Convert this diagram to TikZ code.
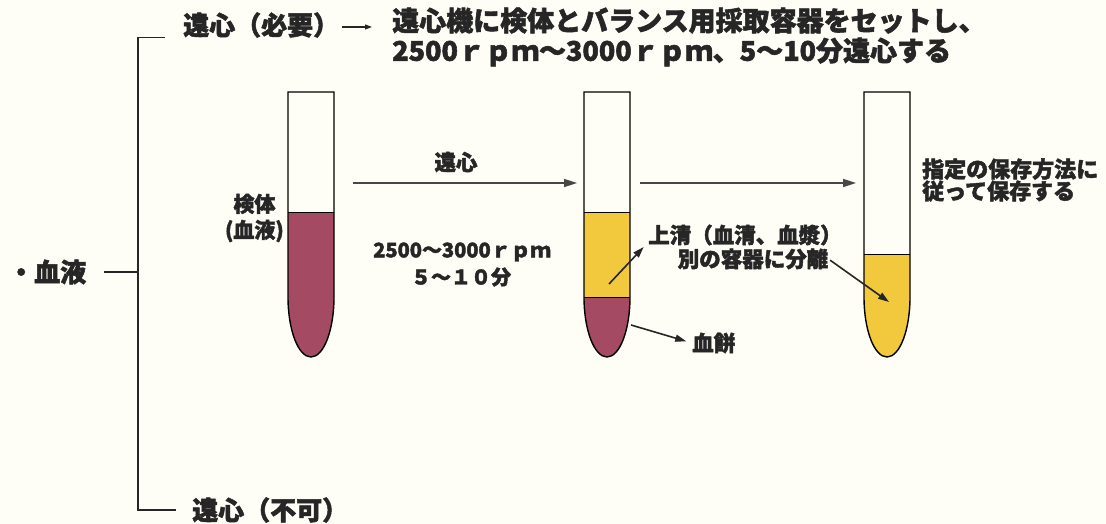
\documentclass[tikz,border=0pt]{standalone}
\usepackage{fontspec}
\newfontfamily\jp{Noto Sans CJK JP}[FakeBold=2]
\usetikzlibrary{arrows.meta}
\definecolor{paper}{RGB}{254,253,246}
\definecolor{clot}{RGB}{164,74,98}
\definecolor{serum}{RGB}{242,200,60}
\definecolor{ink}{RGB}{38,38,38}
\tikzset{
  lbl/.style={inner sep=0pt, text=ink, font=\jp\bfseries\fontsize{21.5}{23}\selectfont},
  head/.style={inner sep=0pt, text=ink, font=\jp\bfseries\fontsize{26}{30}\selectfont},
  big/.style={inner sep=0pt, text=ink, font=\jp\bfseries\fontsize{27}{30}\selectfont},
  flow/.style={draw=ink!85, line width=1.6pt, -{Triangle[length=13pt,width=8pt]}},
  leader/.style={draw=ink, line width=1.6pt, -{Triangle[length=11pt,width=7pt]}},
  tubeline/.style={draw=black, line width=1.4pt}
}
% tube: left wall at #1, width 46, round bottom at y=-357
\newcommand{\tubebody}[1]{(#1,-92) -- (#1,-297) arc[start angle=180, end angle=360, x radius=23pt, y radius=60pt] -- (#1+46,-92) -- cycle}
\newcommand{\tubebottom}[2]{(#1,#2) -- (#1,-297) arc[start angle=180, end angle=360, x radius=23pt, y radius=60pt] -- (#1+46,#2) -- cycle}

\begin{document}
\begin{tikzpicture}[x=1pt, y=1pt]
  \useasboundingbox[fill=paper] (0,0) rectangle (1106,-524);

  % headings and the bracket
  \node[head, anchor=west] (need) at (183,-25) {遠心（必要）};
  \node[big, anchor=west, align=left] (howto) at (392,-37) {遠心機に検体とバランス用採取容器をセットし、\\2500ｒｐｍ～3000ｒｐｍ、5～10分遠心する};
  \node[head, anchor=west] (blood) at (8,-272) {・血液};
  \node[head, anchor=west] (noneed) at (192,-510) {遠心（不可）};
  \coordinate (fork) at (138,-272);
  \draw[ink, line width=1.4pt] ([xshift=-18pt]need.south west) -| (fork) |- ([xshift=-16pt]noneed.west);
  \draw[ink, line width=1.4pt] ([xshift=18pt]blood.east) -- (fork);
  \draw[ink, line width=1.2pt, -{Triangle[length=7pt,width=5pt]}] ([xshift=3pt,yshift=-2pt]need.east) -- ([xshift=-20pt,yshift=-2pt]need.east -| howto.west);

  % liquids
  \fill[clot] \tubebottom{288}{-212};
  \fill[serum] (584,-212) rectangle (630,-297);
  \fill[clot] \tubebottom{584}{-297};
  \fill[serum] \tubebottom{864}{-254};
  \draw[black, line width=1pt] (288,-212) -- (334,-212) (584,-212) -- (630,-212) (584,-297) -- (630,-297) (864,-254) -- (910,-254);
  \draw[tubeline] \tubebody{288};
  \draw[tubeline] \tubebody{584};
  \draw[tubeline] \tubebody{864};

  % process arrows
  \coordinate (t1) at (334,-183);
  \coordinate (t2l) at (584,-183);
  \coordinate (t2r) at (630,-183);
  \coordinate (t3) at (864,-183);
  \draw[flow, shorten <=19pt, shorten >=7pt] (t1) -- (t2l);
  \draw[flow, shorten <=10pt, shorten >=8pt] (t2r) -- (t3);

  \node[lbl] (spin) at (456,-162) {遠心};
  \node[lbl, font=\jp\bfseries\fontsize{20}{22}\selectfont] (rpm) at (462,-252) {2500～3000ｒｐｍ};
  \node[lbl, font=\jp\bfseries\fontsize{20}{22}\selectfont] (mins) at (461,-277) {５～１０分};
  \node[lbl, anchor=east, align=center, font=\jp\bfseries\fontsize{21}{26}\selectfont] (sample) at (284,-218) {検体\\(血液)};

  % labels with leaders
  \node[lbl, anchor=west] (sup) at (648,-235) {上清（血清、血漿）};
  \node[lbl] (sep) at (753,-259) {別の容器に分離};
  \node[lbl, anchor=west] (clotlbl) at (692,-343) {血餅};
  \node[lbl, anchor=west, align=left, font=\jp\bfseries\fontsize{22}{22}\selectfont] (store) at (922,-180) {指定の保存方法に\\従って保存する};
  \coordinate (s2) at (609,-284);
  \coordinate (s3) at (889,-302);
  \coordinate (c2) at (631,-325);
  \draw[leader, shorten >=2pt] (s2) -- ([xshift=-3pt]sup.south west);
  \draw[leader, shorten <=2pt] (sep.east) -- (s3);
  \draw[leader, shorten >=6pt] (c2) -- (clotlbl.west);
\end{tikzpicture}
\end{document}
